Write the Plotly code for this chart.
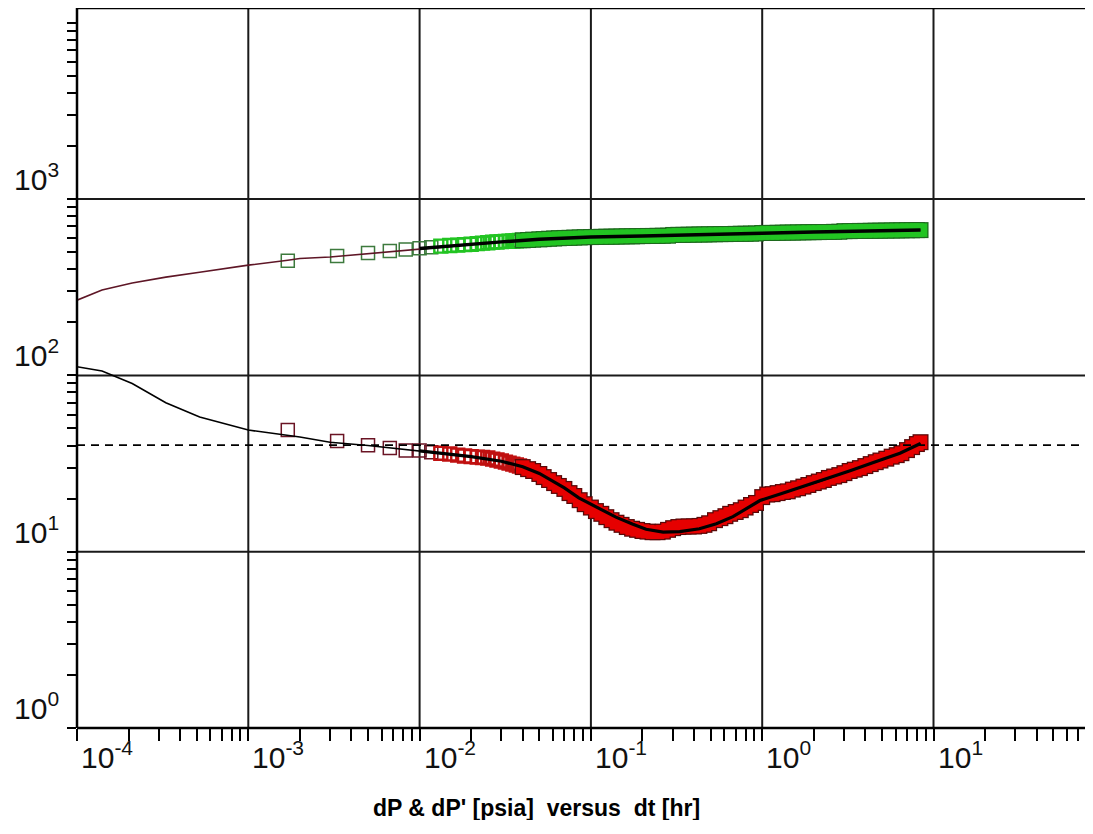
import numpy as np
import plotly.graph_objects as go

t_data = [0.0017, 0.0033, 0.005, 0.0067, 0.0083, 0.01, 0.0117, 0.0133, 0.015, 0.0167,
          0.0183, 0.02, 0.0217, 0.0233, 0.025, 0.0267, 0.0283, 0.03, 0.0317, 0.0333,
          0.035, 0.0367, 0.0383, 0.04, 0.043, 0.046, 0.05, 0.053, 0.057, 0.061,
          0.065, 0.07, 0.075, 0.08, 0.086, 0.092, 0.1, 0.107, 0.115, 0.123,
          0.132, 0.141, 0.151, 0.162, 0.174, 0.186, 0.2, 0.214, 0.229, 0.245,
          0.263, 0.282, 0.302, 0.324, 0.347, 0.372, 0.4, 0.43, 0.46, 0.49,
          0.53, 0.57, 0.61, 0.65, 0.7, 0.75, 0.8, 0.86, 0.92, 1.0,
          1.07, 1.15, 1.23, 1.32, 1.41, 1.51, 1.62, 1.74, 1.86, 2.0,
          2.14, 2.29, 2.45, 2.63, 2.82, 3.02, 3.24, 3.47, 3.72, 4.0,
          4.3, 4.6, 4.9, 5.3, 5.7, 6.1, 6.5, 7.0, 7.5, 8.0, 8.4]

dp_data = [447, 475, 494, 507, 518, 527, 534, 541, 545, 548,
           552, 555, 559, 563, 566, 570, 571, 574, 576, 577,
           579, 581, 582, 584, 586, 589, 591, 593, 596, 598,
           600, 602, 603, 605, 606, 608, 609, 610, 611, 612,
           612, 613, 614, 615, 615, 616, 617, 618, 618, 619,
           620, 620, 626, 627, 627, 628, 629, 630, 630, 631,
           632, 633, 633, 634, 635, 636, 636, 637, 638, 642,
           643, 643, 644, 645, 646, 646, 647, 648, 649, 649,
           650, 651, 651, 652, 653, 658, 658, 659, 660, 660,
           661, 662, 662, 663, 664, 664, 665, 666, 666, 667, 667]

dpd_data = [49.0, 42.4, 40.2, 38.7, 37.5, 37.5, 36.7, 36.2, 35.8, 35.3,
            34.9, 34.6, 34.4, 34.2, 34.0, 33.5, 33.1, 32.7, 32.2, 31.8,
            31.4, 31.0, 30.6, 30.2, 29.4, 28.7, 27.6, 26.5, 25.5, 24.5,
            23.6, 22.7, 21.5, 20.7, 19.6, 18.6, 17.8, 17.0, 16.4, 15.7,
            15.1, 14.6, 14.2, 13.8, 13.5, 13.3, 13.1, 13.0, 12.9, 12.9,
            13.0, 13.3, 13.6, 13.8, 13.9, 13.9, 13.9, 14.0, 14.2, 14.5,
            15.1, 15.5, 15.9, 16.4, 16.8, 17.2, 17.8, 18.4, 18.9, 20.4,
            21.1, 21.2, 21.5, 21.8, 22.0, 22.5, 22.9, 23.4, 23.9, 24.5,
            25.0, 25.5, 26.2, 26.7, 27.2, 27.9, 28.7, 29.2, 29.8, 30.6,
            31.4, 32.2, 32.9, 33.7, 34.6, 35.3, 36.2, 37.7, 39.2, 40.8, 41.8]

# ---------------- model curves ----------------
t_model_p = [1e-4, 1.4e-4, 2.1e-4, 3.3e-4, 5.2e-4, 1e-3, 1.7e-3, 2e-3, 3e-3, 5e-3,
             7e-3, 0.01, 0.015, 0.02, 0.03, 0.05, 0.1, 0.2, 0.3, 0.5,
             1.0, 2.0, 3.0, 5.0, 8.4]
dp_model = [267, 305, 334, 361, 385, 422, 450, 460, 469, 490,
            505, 524, 542, 553, 572, 591, 609, 617, 624, 631,
            640, 650, 656, 662, 668]

t_model_d = [1e-4, 1.4e-4, 2.1e-4, 3.3e-4, 5.2e-4, 1e-3, 2e-3, 3e-3, 5e-3, 7e-3,
             0.01, 0.015, 0.02, 0.03, 0.04, 0.05, 0.06, 0.07, 0.085, 0.1,
             0.113, 0.14, 0.176, 0.21, 0.264, 0.33, 0.43, 0.54, 0.675, 0.8,
             0.97, 1.3, 1.66, 2.2, 3.26, 4.5, 6.37, 8.4]
dpd_model = [112, 106, 90, 70, 58, 49, 44.7, 41.8, 40.0, 38.7,
             37.3, 35.8, 34.6, 32.6, 30.3, 27.8, 25.2, 23.0, 20.2, 18.6,
             17.6, 15.7, 14.3, 13.4, 12.9, 13.0, 13.5, 14.4, 15.8, 17.5,
             19.5, 21.4, 23.1, 25.2, 28.8, 32.2, 36.2, 41.1]

iarf_level = 40.2   # horizontal (dashed) derivative stabilisation line

x_label_exps = [-4, -3, -2, -1, 0, 1]
y_label_exps = [0, 1, 2, 3]

# ---------------- styling ----------------
FONT = "Liberation Sans, Arial, sans-serif"
GREEN = "#22c422"
GREEN_DARK = "#1d6a1d"
GREEN_EARLY = "#3d7a3d"
RED = "#e60000"
RED_DARK = "#5a0808"
RED_EARLY = "#6a1424"
MAROON = "#5e1626"
GRID = "#1a1a1a"

t = np.array(t_data)
dp = np.array(dp_data)
dpd = np.array(dpd_data)
sparse = t < 0.04
dense = ~sparse
early = t < 0.0125

fig = go.Figure()

def add_series(y, col_early, col_mid, col_dark, col_fill):
    # sparse (hollow squares)
    cols = [col_early if e else col_mid for e in early[sparse]]
    widths = [1.5 if e else 2.4 for e in early[sparse]]
    fig.add_trace(go.Scatter(x=t[sparse], y=y[sparse], mode="markers",
                             marker=dict(symbol="square-open", size=13, color=cols,
                                         line=dict(width=widths, color=cols)),
                             showlegend=False, hoverinfo="x+y"))
    # dense (overlapping squares -> solid band)
    fig.add_trace(go.Scatter(x=t[dense], y=y[dense], mode="markers",
                             marker=dict(symbol="square", size=16, color=col_dark,
                                         line=dict(width=0)),
                             showlegend=False, hoverinfo="skip"))
    fig.add_trace(go.Scatter(x=t[dense], y=y[dense], mode="markers",
                             marker=dict(symbol="square", size=13.5, color=col_fill,
                                         line=dict(width=0)),
                             showlegend=False, hoverinfo="x+y"))

add_series(dp, GREEN_EARLY, GREEN, GREEN_DARK, GREEN)
add_series(dpd, RED_EARLY, "#c01010", RED_DARK, RED)

tmp = np.array(t_model_p); ymp = np.array(dp_model)
tmd = np.array(t_model_d); ymd = np.array(dpd_model)

fig.add_trace(go.Scatter(x=tmp, y=ymp, mode="lines", line=dict(color=MAROON, width=1.6),
                         showlegend=False, hoverinfo="skip"))
mp = tmp >= 0.0085
fig.add_trace(go.Scatter(x=tmp[mp], y=ymp[mp], mode="lines", line=dict(color="black", width=3.5),
                         showlegend=False, hoverinfo="skip"))
fig.add_trace(go.Scatter(x=tmd, y=ymd, mode="lines", line=dict(color="black", width=1.6),
                         showlegend=False, hoverinfo="skip"))
md = tmd >= 0.01
fig.add_trace(go.Scatter(x=tmd[md], y=ymd[md], mode="lines", line=dict(color="black", width=3.2),
                         showlegend=False, hoverinfo="skip"))

fig.add_hline(y=iarf_level, line=dict(color="black", width=1.8, dash="8px,6px"))

# ---------------- axes ----------------
# the page body has an 8 px margin; the figure is sized to avoid scrollbars
W, H = 1077, 812
ML, MR, MT, MB = 69, 0, 0, 92
x_dec = 171.3
y_dec = 176.3
x_range = [-4, -4 + (W - ML - MR) / x_dec]
y_range = [0, (H - MT - MB) / y_dec]

x_major = [10.0 ** k for k in range(-4, 2)]
x_minor = [m * 10.0 ** k for k in range(-4, 2) for m in range(2, 10)]
y_major = [10.0 ** k for k in range(0, 4)]
y_minor = [m * 10.0 ** k for k in range(0, 4) for m in range(2, 10)] + [1e4]

# all ticks (major + minor) as plain tick marks, no built-in grid or axis lines
fig.update_xaxes(type="log", range=x_range, tickvals=sorted(x_major + x_minor),
                 showticklabels=False, ticks="outside", ticklen=12, tickwidth=2,
                 tickcolor="black", showgrid=False, showline=False, mirror=False,
                 zeroline=False)
fig.update_yaxes(type="log", range=y_range, tickvals=sorted(y_major + y_minor),
                 showticklabels=False, ticks="outside", ticklen=9, tickwidth=2,
                 tickcolor="black", showgrid=False, showline=False, mirror=False,
                 zeroline=False)

# decade grid lines, placed through the axes' own scales
for xv in x_major[1:]:
    fig.add_shape(type="line", xref="x", yref="y domain", x0=xv, x1=xv, y0=0, y1=1,
                  line=dict(color=GRID, width=2), layer="below")
for yv in y_major[1:]:
    fig.add_shape(type="line", xref="x domain", yref="y", x0=0, x1=1, y0=yv, y1=yv,
                  line=dict(color=GRID, width=2), layer="below")

# frame: left, bottom and top edges only (the right side is open, as in the reference)
frame = dict(type="line", line=dict(color="black", width=2.5), layer="above")
fig.add_shape(**frame, xref="x domain", yref="y domain", x0=0, x1=0, y0=0, y1=1)
fig.add_shape(**frame, xref="x domain", yref="y domain", x0=0, x1=1, y0=0, y1=0)
fig.add_shape(**frame, xref="x domain", yref="y domain", x0=0, x1=1, y0=1, y1=1)

annotations = []
for e in x_label_exps:
    annotations.append(dict(x=e, xref="x", y=0, yref="paper", text=f"10<sup>{e}</sup>",
                            showarrow=False, xanchor="left", yanchor="top",
                            xshift=2, yshift=-6,
                            font=dict(family=FONT, size=30, color="#111")))
for e in y_label_exps:
    annotations.append(dict(x=0, xref="paper", y=e, yref="y", text=f"10<sup>{e}</sup>",
                            showarrow=False, xanchor="right", yanchor="bottom",
                            xshift=-16, yshift=1,
                            font=dict(family=FONT, size=30, color="#111")))
annotations.append(dict(x=(528 - ML) / (W - ML - MR), xref="paper", y=0, yref="paper",
                        text="<b>dP &amp; dP' [psia]&nbsp; versus&nbsp; dt [hr]</b>",
                        showarrow=False, xanchor="center", yanchor="middle", yshift=-80,
                        font=dict(family=FONT, size=23, color="black")))

fig.update_layout(width=W, height=H, margin=dict(l=ML, r=MR, t=MT, b=MB, pad=0),
                  paper_bgcolor="white", plot_bgcolor="white",
                  annotations=annotations, showlegend=False)

fig.write_html("out.html")
